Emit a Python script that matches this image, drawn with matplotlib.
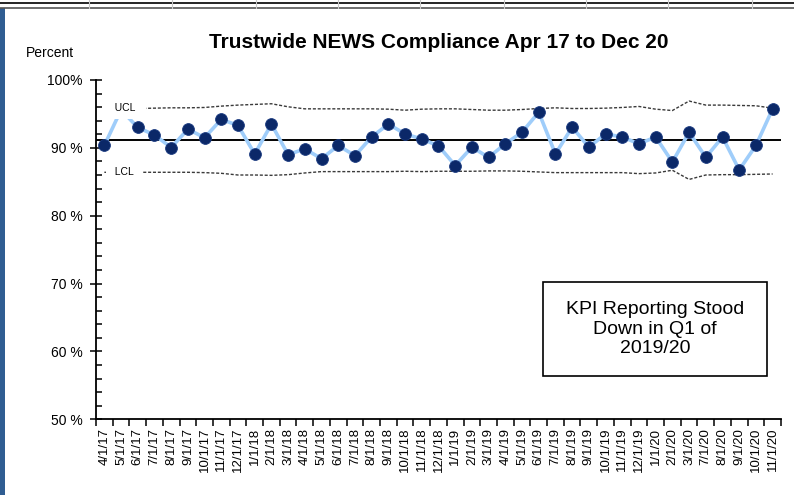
import matplotlib
matplotlib.use("Agg")
import matplotlib.pyplot as plt
from matplotlib.patches import Rectangle
from matplotlib.ticker import MultipleLocator, FixedLocator

plt.rcParams['font.family'] = ['Liberation Sans', 'DejaVu Sans']

# month labels (Apr-Jun 2020 not reported)
months = ['4/1/17', '5/1/17', '6/1/17', '7/1/17', '8/1/17', '9/1/17', '10/1/17', '11/1/17', '12/1/17',
          '1/1/18', '2/1/18', '3/1/18', '4/1/18', '5/1/18', '6/1/18', '7/1/18', '8/1/18', '9/1/18',
          '10/1/18', '11/1/18', '12/1/18',
          '1/1/19', '2/1/19', '3/1/19', '4/1/19', '5/1/19', '6/1/19', '7/1/19', '8/1/19', '9/1/19',
          '10/1/19', '11/1/19', '12/1/19',
          '1/1/20', '2/1/20', '3/1/20', '7/1/20', '8/1/20', '9/1/20', '10/1/20', '11/1/20']

compliance = [90.35, 95.6, 93.0, 91.9, 90.05, 92.75, 91.5, 94.2, 93.3, 89.1, 93.5, 89.0, 89.85,
              88.4, 90.35, 88.85, 91.6, 93.5, 92.05, 91.3, 90.3,
              87.4, 90.1, 88.6, 90.6, 92.3, 95.25, 89.1, 93.05, 90.1, 92.05, 91.6, 90.6,
              91.6, 87.9, 92.3, 88.6, 91.6, 86.75, 90.35, 95.75]

mean_line = 91.1

ucl = [95.75, 95.8, 95.8, 95.85, 95.9, 95.9, 95.95, 96.15, 96.3, 96.4, 96.5, 96.05, 95.75,
       95.75, 95.75, 95.75, 95.75, 95.7, 95.55, 95.7, 95.75,
       95.75, 95.65, 95.55, 95.55, 95.65, 95.8, 95.9, 95.8, 95.8, 95.85, 95.95, 96.1,
       95.7, 95.5, 96.9, 96.3, 96.3, 96.25, 96.2, 95.85]

lcl = [86.4, 86.4, 86.4, 86.4, 86.4, 86.4, 86.35, 86.25, 86.0, 86.0, 85.95, 86.05, 86.3,
       86.5, 86.5, 86.5, 86.5, 86.5, 86.55, 86.5, 86.55,
       86.55, 86.55, 86.6, 86.6, 86.55, 86.45, 86.35, 86.35, 86.35, 86.35, 86.35, 86.2,
       86.3, 86.7, 85.35, 86.0, 86.05, 86.05, 86.1, 86.15]

y_ticks = [50, 60, 70, 80, 90, 100]
y_labels = ['50 %', '60 %', '70 %', '80 %', '90 %', '100%']

fig = plt.figure(figsize=(7.94, 4.95), dpi=100)
ax = fig.add_axes([0.1209, 0.1529, 0.8627, 0.6855])

x = list(range(len(months)))

ax.plot(x, ucl, color='#3a3a3a', lw=1, ls=(0, (2.2, 1.3)), zorder=2)
ax.plot(x, lcl, color='#3a3a3a', lw=1, ls=(0, (2.2, 1.3)), zorder=2)
ax.axhline(mean_line, color='black', lw=1.4, zorder=2)
ax.plot(x, compliance, color='#9fcdfa', lw=2.6, marker='o', markersize=8.5,
        markerfacecolor='#0b2868', markeredgecolor='#1a3a80', markeredgewidth=0.6, zorder=3)

# control limit labels (white box hides the line behind them)
ax.text(1.2, ucl[1], '  UCL  ', fontsize=7.5, ha='center', va='center', zorder=5,
        bbox=dict(boxstyle='square,pad=0.55', fc='white', ec='none'))
ax.text(1.2, lcl[1], '  LCL  ', fontsize=7.5, ha='center', va='center', zorder=5,
        bbox=dict(boxstyle='square,pad=0.3', fc='white', ec='none'))

ax.set_xlim(-0.5, len(months) - 0.5)
ax.set_ylim(50, 100)

for s in ['top', 'right']:
    ax.spines[s].set_visible(False)
ax.spines['left'].set_linewidth(1.3)
ax.spines['bottom'].set_linewidth(1.3)

ax.set_xticks(x)
ax.set_xticklabels(months, rotation=90, fontsize=9.5, va='top')
ax.xaxis.set_minor_locator(FixedLocator([i - 0.5 for i in range(len(months) + 1)]))
ax.tick_params(axis='x', which='major', length=0, pad=6)
ax.tick_params(axis='x', which='minor', length=5, width=1.1, direction='out')

ax.set_yticks(y_ticks)
ax.set_yticklabels(y_labels, fontsize=10)
ax.yaxis.set_minor_locator(MultipleLocator(2))
ax.tick_params(axis='y', which='major', length=9, width=1.1, direction='inout', pad=5)
ax.tick_params(axis='y', which='minor', length=4, width=1.1, direction='in')

fig.text(0.552, 0.915, 'Trustwide NEWS Compliance Apr 17 to Dec 20', ha='center', va='center',
         fontsize=15, fontweight='bold')
fig.text(0.033, 0.893, 'Percent', ha='left', va='center', fontsize=10)

# annotation box
fig.patches.append(Rectangle((0.684, 0.2404), 0.282, 0.190, transform=fig.transFigure,
                             fill=True, fc='white', ec='black', lw=1.2, zorder=5))
fig.text(0.825, 0.335, 'KPI Reporting Stood\nDown in Q1 of\n2019/20', ha='center', va='center',
         fontsize=14, linespacing=1.18, zorder=6)

# spreadsheet frame bits
fig.patches.append(Rectangle((0, 0), 0.0063, 0.983, transform=fig.transFigure,
                             fc='#2f5d92', ec='none', zorder=1))
fig.lines.append(plt.Line2D([0, 1], [0.9945, 0.9945], transform=fig.transFigure, color='black', lw=1.2))
fig.lines.append(plt.Line2D([0, 1], [0.983, 0.983], transform=fig.transFigure, color='#555555', lw=1.2))
for gx in [88.6, 172, 255.7, 338, 420, 503.8, 586, 668, 752]:
    fig.lines.append(plt.Line2D([gx / 794, gx / 794], [0.983, 1.0], transform=fig.transFigure,
                                color='#c8c8c8', lw=0.8))

fig.savefig('out.png', dpi=100)
